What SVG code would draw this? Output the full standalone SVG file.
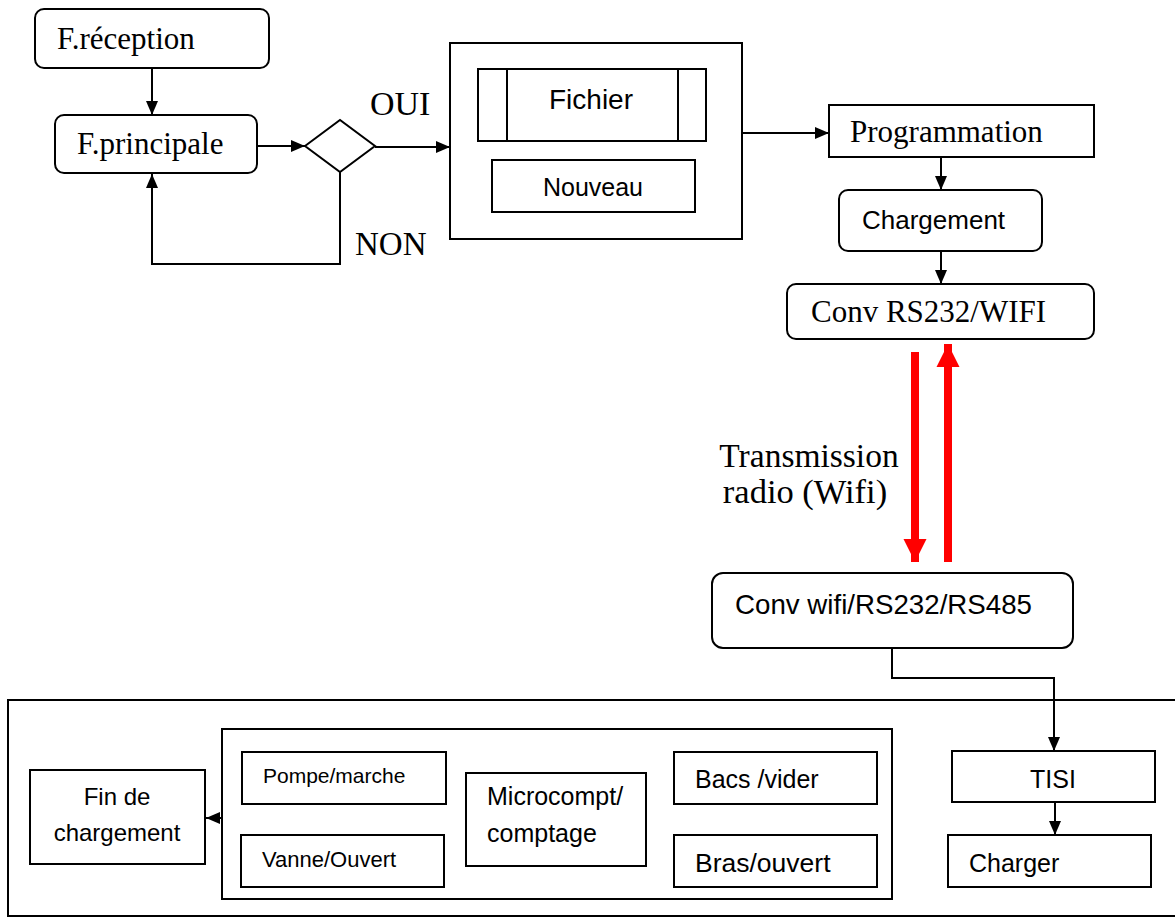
<svg xmlns="http://www.w3.org/2000/svg" width="1175" height="918" viewBox="0 0 1175 918">
<style>
.box{fill:#fff;stroke:#000;stroke-width:2}
.ln{fill:none;stroke:#000;stroke-width:2}
.red{fill:none;stroke:#f00;stroke-width:8}
.serif{font-family:"Liberation Serif","Times New Roman",serif;font-size:31px;fill:#000}
.sans{font-family:"Liberation Sans",Arial,sans-serif;font-size:25px;fill:#000}
</style>
<defs>
<marker id="ah" markerUnits="userSpaceOnUse" markerWidth="14" markerHeight="12" refX="14" refY="6" orient="auto">
<path d="M0,0 L14,6 L0,12 z" fill="#000"/>
</marker>
<marker id="rah" markerUnits="userSpaceOnUse" markerWidth="24" markerHeight="24" refX="23" refY="12" orient="auto">
<path d="M0,0.5 L23,12 L0,23.5 z" fill="#f00"/>
</marker>
</defs>
<rect width="1175" height="918" fill="#fff"/>

<g id="f-reception">
<rect class="box" x="35" y="9" width="234" height="59" rx="9"/>
<text class="serif" x="57" y="49">F.réception</text>
</g>
<g id="f-principale">
<rect class="box" x="55" y="115" width="202" height="58" rx="9"/>
<text class="serif" x="77" y="154">F.principale</text>
</g>
<g id="decision">
<polygon class="box" points="305,146 340,120 375,146 340,172"/>
</g>
<g id="label-oui"><text class="serif" x="370" y="115" style="font-size:34px">OUI</text></g>
<g id="label-non"><text class="serif" x="355" y="255" style="font-size:33px">NON</text></g>

<g id="menu">
<rect class="box" x="450" y="43" width="292" height="196"/>
</g>
<g id="fichier">
<rect class="box" x="478" y="69" width="228" height="72"/>
<line class="ln" x1="507" y1="69" x2="507" y2="141"/>
<line class="ln" x1="678" y1="69" x2="678" y2="141"/>
<text class="sans" x="591" y="109" text-anchor="middle" style="font-size:28px">Fichier</text>
</g>
<g id="nouveau">
<rect class="box" x="492" y="160" width="203" height="52"/>
<text class="sans" x="593" y="196" text-anchor="middle">Nouveau</text>
</g>

<g id="programmation">
<rect class="box" x="829" y="105" width="265" height="52"/>
<text class="serif" x="850" y="142">Programmation</text>
</g>
<g id="chargement">
<rect class="box" x="839" y="190" width="203" height="61" rx="9"/>
<text class="sans" x="862" y="229" style="font-size:26px">Chargement</text>
</g>
<g id="conv-rs232-wifi">
<rect class="box" x="787" y="284" width="307" height="55" rx="9"/>
<text class="serif" x="811" y="322">Conv RS232/WIFI</text>
</g>

<g id="label-transmission">
<text class="serif" x="809" y="467" text-anchor="middle" style="font-size:33.5px">Transmission</text>
<text class="serif" x="805" y="503" text-anchor="middle" style="font-size:34.5px">radio (Wifi)</text>
</g>

<g id="conv-wifi-rs232-rs485">
<rect class="box" x="712" y="573" width="361" height="75" rx="11"/>
<text class="sans" x="735" y="614" style="font-size:27.7px">Conv wifi/RS232/RS485</text>
</g>

<g id="station">
<rect class="box" x="8" y="700" width="1180" height="216"/>
</g>
<g id="actionneurs">
<rect class="box" x="222" y="729" width="670" height="170"/>
</g>
<g id="fin-de-chargement">
<rect class="box" x="30" y="770" width="175" height="94"/>
<text class="sans" x="117" y="805" text-anchor="middle" style="font-size:24px">Fin de</text>
<text class="sans" x="117" y="841" text-anchor="middle" style="font-size:24px">chargement</text>
</g>
<g id="pompe">
<rect class="box" x="242" y="752" width="204" height="52"/>
<text class="sans" x="263" y="783" style="font-size:21px">Pompe/marche</text>
</g>
<g id="vanne">
<rect class="box" x="241" y="835" width="203" height="52"/>
<text class="sans" x="262" y="867" style="font-size:22px">Vanne/Ouvert</text>
</g>
<g id="microcompt">
<rect class="box" x="466" y="773" width="180" height="93"/>
<text class="sans" x="487" y="805">Microcompt/</text>
<text class="sans" x="487" y="842">comptage</text>
</g>
<g id="bacs">
<rect class="box" x="674" y="752" width="203" height="52"/>
<text class="sans" x="695" y="788">Bacs /vider</text>
</g>
<g id="bras">
<rect class="box" x="674" y="835" width="203" height="52"/>
<text class="sans" x="695" y="872" style="font-size:26.5px">Bras/ouvert</text>
</g>
<g id="tisi">
<rect class="box" x="952" y="751" width="203" height="51"/>
<text class="sans" x="1053" y="788" text-anchor="middle">TISI</text>
</g>
<g id="charger">
<rect class="box" x="948" y="835" width="203" height="52"/>
<text class="sans" x="969" y="872">Charger</text>
</g>

<g id="connectors">
<line class="ln" x1="152" y1="68" x2="152" y2="115" marker-end="url(#ah)"/>
<line class="ln" x1="257" y1="146" x2="305" y2="146" marker-end="url(#ah)"/>
<line class="ln" x1="375" y1="147" x2="450" y2="147" marker-end="url(#ah)"/>
<polyline class="ln" points="340,172 340,264 152,264 152,174" marker-end="url(#ah)"/>
<line class="ln" x1="742" y1="133" x2="829" y2="133" marker-end="url(#ah)"/>
<line class="ln" x1="941" y1="157" x2="941" y2="190" marker-end="url(#ah)"/>
<line class="ln" x1="941" y1="251" x2="941" y2="284" marker-end="url(#ah)"/>
<line class="red" x1="915" y1="352" x2="915" y2="562" marker-end="url(#rah)"/>
<line class="red" x1="948" y1="562" x2="948" y2="344" marker-end="url(#rah)"/>
<polyline class="ln" points="892,648 892,678 1054,678 1054,751" marker-end="url(#ah)"/>
<line class="ln" x1="1055" y1="802" x2="1055" y2="835" marker-end="url(#ah)"/>
<line class="ln" x1="222" y1="818" x2="206" y2="818" marker-end="url(#ah)"/>
</g>
</svg>
